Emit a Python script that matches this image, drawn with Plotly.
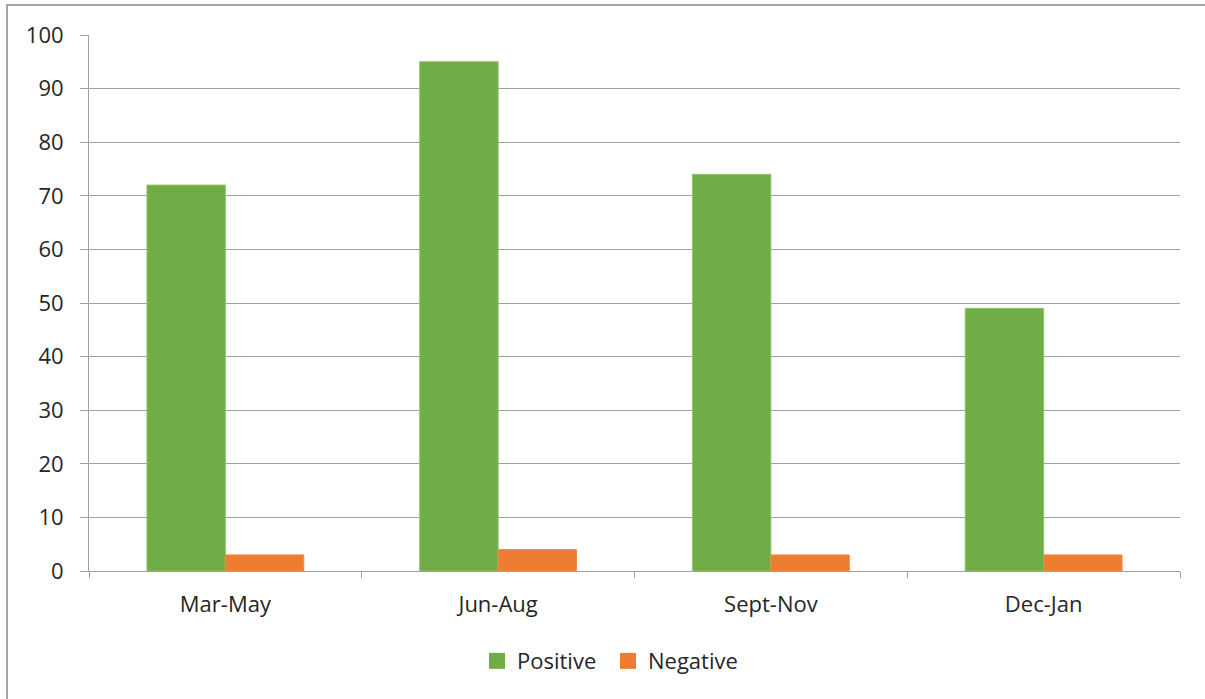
import plotly.graph_objects as go

categories = ["Mar-May", "Jun-Aug", "Sept-Nov", "Dec-Jan"]
positive = [72, 95, 74, 49]
negative = [3, 4, 3, 3]

FONT = "Open Sans"
GRID = "#a0a0a0"
GREEN = "#70ad47"
ORANGE = "#ed7d31"

fig = go.Figure()

fig.add_bar(x=categories, y=positive, name="Positive", showlegend=False,
            marker_color=GREEN, marker_line_color="#8cc46a", marker_line_width=1)
fig.add_bar(x=categories, y=negative, name="Negative", showlegend=False,
            marker_color=ORANGE, marker_line_color="#f08a45", marker_line_width=1)

# legend entries with bigger square swatches, like the Excel legend
for name, col in [("Positive", GREEN), ("Negative", ORANGE)]:
    fig.add_scatter(x=[None], y=[None], mode="markers", name=name,
                    marker=dict(symbol="square", size=16, color=col))

# outer chart border (frame runs off the bottom/right of the picture)
fig.add_shape(type="rect", xref="paper", yref="paper",
              x0=(7 - 89) / 1091, x1=1.05, y0=-0.4, y1=1 + 30 / 536,
              line=dict(color="#a6a6a6", width=2), layer="below")

fig.update_layout(
    width=1205, height=699,
    margin=dict(l=89, r=25, t=35, b=128),
    paper_bgcolor="white", plot_bgcolor="white",
    barmode="group", bargap=0.425, bargroupgap=0,
    font=dict(family=FONT, size=22, color="#262626"),
    showlegend=True,
    legend=dict(orientation="h", x=(477 - 89) / 1091, xanchor="left", y=-0.168, yanchor="middle",
                font=dict(size=22), entrywidth=86, traceorder="normal"),
    xaxis=dict(showgrid=False, showline=True, linecolor=GRID, linewidth=1,
               ticks="outside", tickson="boundaries", ticklen=6, tickcolor=GRID,
               ticklabelstandoff=14),
    yaxis=dict(range=[0, 100], dtick=10, showgrid=True, gridcolor=GRID, gridwidth=1,
               showline=True, linecolor=GRID, linewidth=1, zeroline=False,
               ticks="outside", ticklen=8, tickcolor=GRID, ticklabelstandoff=12),
)

fig.write_html("out.html", config={"displayModeBar": False},
               post_script="document.body.style.margin = '0';")
